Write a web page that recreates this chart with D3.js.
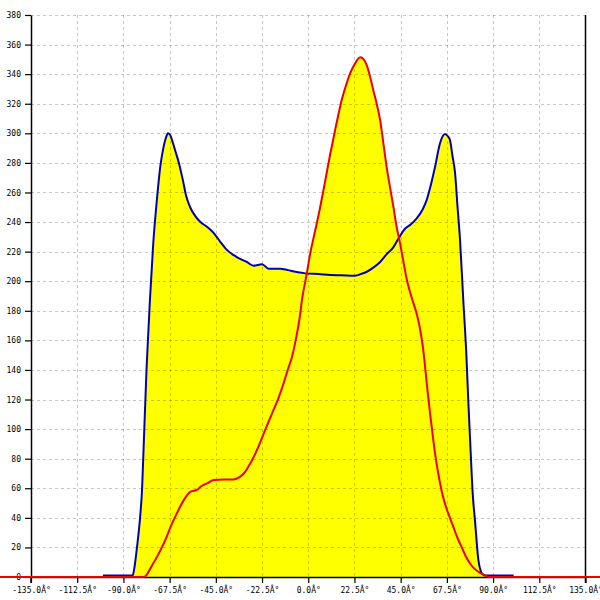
<!DOCTYPE html>
<html>
<head>
<meta charset="utf-8">
<script src="https://cdn.jsdelivr.net/npm/d3@7"></script>
<style>
  html, body { margin: 0; padding: 0; background: #fff; }
  svg { display: block; }
  text { font-family: "DejaVu Sans Mono", "Liberation Mono", monospace; font-size: 8px; fill: #000; }
</style>
</head>
<body>
<svg id="chart" width="600" height="600"></svg>
<script>
// ---- data (degrees, value) ----
const xTicks = [-135, -112.5, -90, -67.5, -45, -22.5, 0, 22.5, 45, 67.5, 90, 112.5, 135];
const yTicks = [0, 20, 40, 60, 80, 100, 120, 140, 160, 180, 200, 220, 240, 260, 280, 300, 320, 340, 360, 380];

const blueAngles = [-100, -85.5, -84.8, -83.4, -81.9, -80.9, -80.2, -78.7, -77.1, -75.5, -73.7, -72, -70.7, -69.3, -68.3, -67.3, -66, -64.5, -63, -61, -59.5, -57.5, -55, -52.5, -49, -46, -43, -39.5, -35, -30, -26.6, -22.5, -19.3, -13.6, -10, -5, -1.5, 5, 10.7, 16, 22.8, 26, 28.5, 32, 35, 38, 41.5, 44, 47.1, 50, 52.8, 55.5, 57.7, 59.5, 61.7, 64.1, 66.6, 68, 69, 70.2, 71.5, 72.6, 73.9, 75.5, 77, 77.9, 79, 80.1, 81.2, 82.8, 84, 85.2, 86, 100];
const blueValues = [1, 1, 5, 20, 40, 60, 86, 142, 187, 225, 255, 278, 289, 297, 300, 299, 294, 287, 280, 268, 258, 250, 244, 240, 236.5, 232.5, 227, 221, 216.5, 213, 210.5, 211.5, 208.5, 208.5, 207.5, 206, 205.3, 204.8, 204.2, 204, 203.7, 205, 206.4, 209.5, 213, 218, 223, 229, 235.5, 238.5, 242.5, 248, 255, 264, 277, 293, 299.5, 298, 295.5, 285, 273, 252, 228, 187, 150, 120, 87, 56, 38, 12, 4, 1.5, 1, 1];

const redAngles = [-180, -80, -76, -72, -69, -67, -64, -60.6, -57.3, -54, -52.5, -49, -46, -41, -36.3, -33.5, -31.4, -29, -26.6, -24, -21.7, -19, -16.9, -14.5, -12, -10, -7.9, -6, -3.9, -3.1, -1, 1, 3.5, 5.8, 8, 10.7, 13.5, 16.3, 18.5, 20.4, 22.5, 25.3, 27, 28.5, 30, 31.7, 33.5, 35, 36.6, 38.2, 40, 41.5, 43, 44.7, 46.5, 48, 49.5, 51, 52.8, 54.4, 56, 57.7, 59.3, 60.9, 62, 63.3, 64.1, 65.5, 67.4, 69, 70.6, 72.5, 74.6, 76.5, 78.7, 81, 83.5, 86.8, 88, 180];
const redValues = [0, 0, 8, 18, 27, 34, 43, 52, 57.7, 59, 61, 63.5, 65.6, 66, 66, 67.5, 70, 75, 81, 89, 97, 106, 113, 121, 131, 140, 149, 161, 178, 187, 203, 219, 235, 250, 266, 286, 305, 322.5, 333, 340.6, 346.5, 351.4, 350, 346, 339, 329, 319, 309, 293, 277, 262, 250, 237, 225.6, 212, 201, 193, 186, 178, 168, 153.5, 131, 110.7, 92.6, 81, 70, 64, 55, 46, 40, 34, 27, 20.5, 14.5, 9.3, 5.5, 2.9, 0.7, 0, 0];

const blueData = blueAngles.map((a, i) => ({a, v: blueValues[i]}));
const redData = redAngles.map((a, i) => ({a, v: redValues[i]}));

// ---- layout ----
const svg = d3.select("#chart");
const mLeft = 31, mRight = 585.5, mTop = 15, mBottom = 577;
const x = d3.scaleLinear().domain([-135, 135]).range([mLeft, mRight]);
const y = d3.scaleLinear().domain([0, 380]).range([mBottom, mTop]);

const area = d3.area().x(d => x(d.a)).y0(y(0)).y1(d => y(d.v)).curve(d3.curveMonotoneX);
const line = d3.line().x(d => x(d.a)).y(d => y(d.v)).curve(d3.curveMonotoneX);

// fills
svg.append("path").datum(blueData).attr("d", area).attr("fill", "#ffff00");
svg.append("path").datum(redData).attr("d", area).attr("fill", "#ffff00");

// grid
const grid = svg.append("g").attr("stroke", "#000").attr("stroke-opacity", 0.22)
  .attr("stroke-dasharray", "3,3").attr("stroke-width", 1);
grid.selectAll("line.h").data(yTicks.filter(d => d > 0)).join("line")
  .attr("x1", mLeft).attr("x2", mRight)
  .attr("y1", d => Math.round(y(d)) + 0.5).attr("y2", d => Math.round(y(d)) + 0.5);
grid.selectAll("line.v").data(xTicks.filter(d => d > -135 && d < 135)).join("line")
  .attr("y1", mTop).attr("y2", mBottom)
  .attr("x1", d => Math.round(x(d)) + 0.5).attr("x2", d => Math.round(x(d)) + 0.5);

// axes
const yAxis = d3.axisLeft(y).tickValues(yTicks).tickSize(6).tickSizeOuter(0).tickPadding(4)
  .tickFormat(d3.format("d"));
const gy = svg.append("g").attr("transform", `translate(${mLeft},0)`).call(yAxis);
gy.select(".domain").attr("stroke", "#000").attr("stroke-width", 1.5);
gy.selectAll(".tick line").attr("stroke", "#000").attr("stroke-width", 1.2);
gy.selectAll("text").style("font-family", '"DejaVu Sans Mono", monospace').style("font-size", "8px");

const xAxis = d3.axisBottom(x).tickValues(xTicks).tickSize(6).tickSizeOuter(0).tickPadding(4)
  .tickFormat(d => d.toFixed(1) + "Â°");
const gx = svg.append("g").attr("transform", `translate(0,${mBottom})`).call(xAxis);
gx.select(".domain").attr("stroke", "#000").attr("stroke-width", 1.5);
gx.selectAll(".tick line").attr("stroke", "#000").attr("stroke-width", 1.2);
gx.selectAll("text").style("font-family", '"DejaVu Sans Mono", monospace').style("font-size", "8px");

// right border line
svg.append("line").attr("x1", mRight).attr("x2", mRight).attr("y1", mTop).attr("y2", mBottom + 6)
  .attr("stroke", "#000").attr("stroke-width", 1.5);
// extend left axis below baseline
svg.append("line").attr("x1", mLeft).attr("x2", mLeft).attr("y1", mBottom).attr("y2", mBottom + 6)
  .attr("stroke", "#000").attr("stroke-width", 1.5);

// series lines
svg.append("path").datum(blueData).attr("d", line).attr("fill", "none")
  .attr("stroke", "#0000b8").attr("stroke-width", 2).attr("stroke-linejoin", "round");
svg.append("path").datum(redData).attr("d", line).attr("fill", "none")
  .attr("stroke", "#ee0000").attr("stroke-width", 2).attr("stroke-linejoin", "round");
</script>
</body>
</html>
